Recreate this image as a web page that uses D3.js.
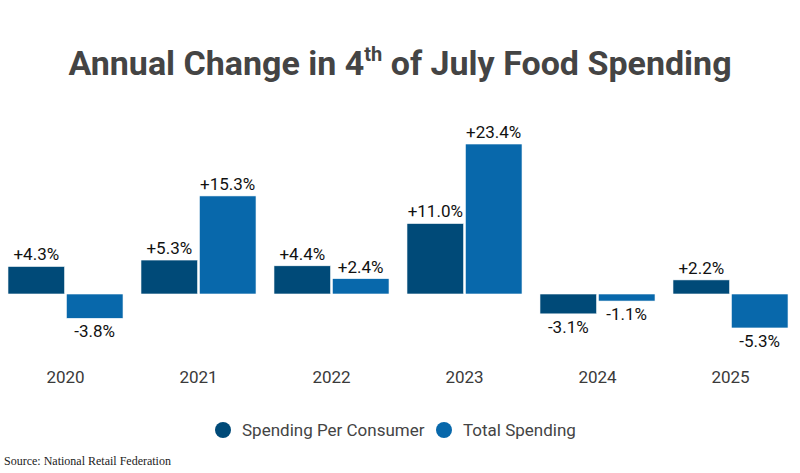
<!DOCTYPE html>
<html>
<head>
<meta charset="utf-8">
<script src="https://cdn.jsdelivr.net/npm/d3@7"></script>
<style>
  html, body { margin: 0; padding: 0; background: #fff; }
  svg { display: block; font-family: Roboto, "Noto Sans", sans-serif; }
</style>
</head>
<body>
<div id="chart"></div>
<script>
// data
const years = ['2020', '2021', '2022', '2023', '2024', '2025'];
const seriesNames = ['Spending Per Consumer', 'Total Spending'];
const perConsumer = [4.3, 5.3, 4.4, 11.0, -3.1, 2.2];
const totalSpending = [-3.8, 15.3, 2.4, 23.4, -1.1, -5.3];
const colors = ['#004a78', '#0868ab'];

const width = 800, height = 473;

const rows = years.map((y, i) => ({ year: y, values: [perConsumer[i], totalSpending[i]] }));

const svg = d3.select('#chart').append('svg')
  .attr('width', width)
  .attr('height', height);

// title with superscript
const title = svg.append('text')
  .attr('x', width / 2)
  .attr('y', 75)
  .attr('text-anchor', 'middle')
  .style('font-size', '34px')
  .style('font-weight', 'bold')
  .style('fill', '#444');
title.append('tspan').text('Annual Change in 4');
title.append('tspan').attr('dy', -14).style('font-size', '20px').text('th');
title.append('tspan').attr('dy', 14).text(' of July Food Spending');

const x0 = d3.scaleBand().domain(years).range([-1, 797]).paddingInner(0.135).paddingOuter(0.0675);
const x1 = d3.scaleBand().domain([0, 1]).range([0, x0.bandwidth()]).paddingInner(0.03);
const y = d3.scaleLinear().domain([-10, 30]).range([358.1, 101.7]);

const groups = svg.append('g').selectAll('g')
  .data(rows)
  .join('g')
  .attr('transform', d => `translate(${x0(d.year)},0)`);

const bars = groups.selectAll('g.bar')
  .data(d => d.values.map((v, i) => ({ v, i })))
  .join('g')
  .attr('class', 'bar');

bars.append('rect')
  .attr('x', d => x1(d.i))
  .attr('y', d => y(Math.max(0, d.v)))
  .attr('width', x1.bandwidth())
  .attr('height', d => Math.abs(y(d.v) - y(0)))
  .attr('fill', d => colors[d.i])
  .attr('stroke', '#fff')
  .attr('stroke-width', 0.6);

bars.append('text')
  .attr('x', d => x1(d.i) + x1.bandwidth() / 2)
  .attr('y', d => d.v >= 0 ? y(d.v) - 6 : y(d.v) + 19)
  .attr('text-anchor', 'middle')
  .style('font-size', '17px')
  .style('fill', '#111')
  .text(d => (d.v > 0 ? '+' : '') + d.v.toFixed(1) + '%');

// year axis labels
const xAxis = svg.append('g')
  .attr('transform', 'translate(0,371)')
  .call(d3.axisBottom(x0).tickSize(0).tickPadding(0));
xAxis.select('.domain').remove();
xAxis.selectAll('text')
  .style('font-family', 'Roboto, sans-serif')
  .style('font-size', '17px')
  .style('font-weight', '400')
  .style('fill', '#3a3a3a');

// legend
const legend = svg.append('g').attr('transform', 'translate(0,430)');
const legendItems = [
  { name: seriesNames[0], cx: 223, tx: 242 },
  { name: seriesNames[1], cx: 444, tx: 463 }
];
legendItems.forEach((d, i) => {
  legend.append('circle').attr('cx', d.cx).attr('cy', 0).attr('r', 8).attr('fill', colors[i]);
  legend.append('text')
    .attr('x', d.tx).attr('y', 0).attr('dy', '0.35em')
    .style('font-size', '17px')
    .style('fill', '#444')
    .text(d.name);
});

svg.append('text')
  .attr('x', 4)
  .attr('y', 465)
  .style('font-family', '"Liberation Serif", "DejaVu Serif", serif')
  .style('font-size', '12px')
  .style('fill', '#222')
  .text('Source: National Retail Federation');
</script>
</body>
</html>
